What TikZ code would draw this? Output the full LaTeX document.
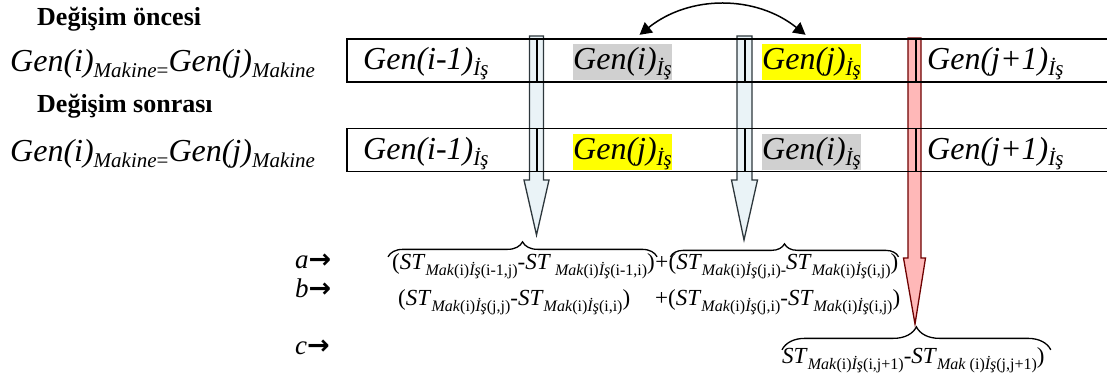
\documentclass[tikz,border=0pt]{standalone}
\usepackage{fontspec}
\setmainfont{Liberation Serif}
\newfontfamily\arrfont{DejaVu Sans}
\usetikzlibrary{
  arrows.meta,
  positioning,
  chains,
  calc,
  decorations.pathreplacing
}
\definecolor{shaftBlue}{RGB}{234,243,247}
\definecolor{edgeBlue}{RGB}{45,55,60}
\definecolor{shaftRed}{RGB}{255,184,184}
\definecolor{edgeRed}{RGB}{110,0,0}
\definecolor{markGray}{RGB}{208,208,208}
\definecolor{markYellow}{RGB}{255,255,0}

\newcommand\genfont{\fontsize{32}{36}\selectfont\itshape}
\newcommand\lowsub[1]{\raisebox{-6pt}{\fontsize{21}{24}\selectfont #1}}
\newcommand\stsub[1]{\raisebox{-6pt}{\fontsize{16}{18}\selectfont #1}}
\newcommand\stx{\textit{ST}}
\newcommand\mak[2][]{\textit{Mak}#1(i)\textit{İş}(#2)}

% block arrow: style, top, tip, head length, half shaft, half head
\newcommand\blockarrow[6]{%
  \path[#1] let \p1=(#2), \p2=(#3) in
    (\x1-#5pt,\y1) -- (\x1+#5pt,\y1) -- (\x1+#5pt,\y2+#4pt)
    -- (\x1+#6pt,\y2+#4pt) -- (\x2,\y2) -- (\x1-#6pt,\y2+#4pt)
    -- (\x1-#5pt,\y2+#4pt) -- cycle;}

\tikzset{
  cell/.style={draw, line width=1.6pt, minimum height=43pt,
    inner sep=0pt, outer sep=0pt, anchor=west},
  head/.style={font=\fontsize{26}{30}\selectfont\bfseries, anchor=base west},
  gen/.style={font=\genfont, anchor=base west},
  hilite/.style={text height=25pt, text depth=11pt},
  expr/.style={font=\fontsize{23}{26}\selectfont, anchor=base west},
  lab/.style={font=\fontsize{27}{30}\selectfont, anchor=base west},
  blueshaft/.style={fill=shaftBlue, draw=edgeBlue, line width=1.3pt},
  redshaft/.style={fill=shaftRed, draw=edgeRed, line width=1.3pt},
  curly/.style={decorate, decoration={brace, amplitude=#1}, line width=1.3pt}
}

\begin{document}
\begin{tikzpicture}[
    x=1pt, y=-1pt,
    >={Triangle[length=12pt,width=13pt]},
    every node/.style={inner sep=0pt},
    node distance=0pt
  ]
  \useasboundingbox (0,0) rectangle (1107,376);

  \node[head] (pre) at (37,25) {Değişim öncesi};
  \node[gen] (eq1) at (10,71) {Gen(i)\lowsub{Makine\textup{=}}Gen(j)\lowsub{Makine}};
  \node[head] (post) at (37,112) {Değişim sonrası};
  \node[gen] (eq2) at (10,161) {Gen(i)\lowsub{Makine\textup{=}}Gen(j)\lowsub{Makine}};

  % block arrows first, the table goes on top
  \coordinate (top1) at (536.5,36);
  \coordinate (tip1) at (536.5,235);
  \coordinate (top2) at (744.5,36);
  \coordinate (tip2) at (744,240);
  \coordinate (top3) at (914.5,38);
  \coordinate (tip3) at (915,324);
  \blockarrow{blueshaft}{top1}{tip1}{55}{7}{12.5}
  \blockarrow{blueshaft}{top2}{tip2}{60}{7.5}{13}
  \blockarrow{redshaft}{top3}{tip3}{66}{6.5}{11}

  \begin{scope}[shift={(347,60.5)}, start chain=going right]
    \foreach \w [count=\k] in {190,208,171,200}{
      \node[cell, on chain, minimum width=\w pt] (r1c\k) {};
    }
  \end{scope}
  \begin{scope}[shift={(347,150)}, start chain=going right]
    \foreach \w [count=\k] in {190,208,171,200}{
      \node[cell, on chain, minimum width=\w pt] (r2c\k) {};
    }
  \end{scope}

  \node[gen] (g11) at (363,69) {Gen(i-1)\lowsub{İş}};
  \node[gen, hilite, fill=markGray] (g12) at (573,69) {Gen(i)\lowsub{İş}};
  \node[gen, hilite, fill=markYellow] (g13) at (762,69) {Gen(j)\lowsub{İş}};
  \node[gen] (g14) at (927,69) {Gen(j+1)\lowsub{İş}};

  \node[gen] (g21) at (363,159) {Gen(i-1)\lowsub{İş}};
  \node[gen, hilite, fill=markYellow] (g22) at (573,159) {Gen(j)\lowsub{İş}};
  \node[gen, hilite, fill=markGray] (g23) at (762,159) {Gen(i)\lowsub{İş}};
  \node[gen] (g24) at (927,159) {Gen(j+1)\lowsub{İş}};

  \draw[<->, line width=1.5pt]
    ([shift={(17pt,9pt)}]g12.north) .. controls +(50,-40) and +(-50,-40) ..
    ([shift={(-6pt,9pt)}]g13.north);

  % setup time terms
  \node[lab] (la) at (295,268) {\textit{a}{\arrfont\bfseries →}};
  \node[lab] (lb) at (295,297) {\textit{b}{\arrfont\bfseries →}};
  \node[lab] (lc) at (295,354) {\textit{c}{\arrfont\bfseries →}};

  \node[expr] (a1) at (392,269) {(\stx\stsub{\mak{i-1,j}}-\stx\stsub{\ \mak{i-1,i}})};
  \node[expr, base right=of a1] (aplus) {+};
  \node[expr, base right=of aplus] (a2) {(\stx\stsub{\mak{j,i}-}\stx\stsub{\mak{i,j}})};
  \node[expr] (b1) at (398,305) {(\stx\stsub{\mak{j,j}}-\stx\stsub{\mak{i,i}})};
  \node[expr] (b2) at (655,305) {+(\stx\stsub{\mak{j,i}}-\stx\stsub{\mak{i,j}})};
  \node[expr] (c1) at (782,363) {\stx\stsub{\mak{i,j+1}}-\stx\stsub{\mak[\ ]{j,j+1}})};

  \draw[curly=15pt] ([xshift=-4pt,yshift=-4pt]a1.north west)
    -- ([xshift=2pt,yshift=-4pt]a1.north east);
  \draw[curly=13pt] ([xshift=2pt,yshift=-4pt]a2.north west)
    -- ([yshift=-4pt]a2.north east);
  \draw[curly=23pt] ([yshift=-3pt]c1.north west)
    -- ([xshift=6pt,yshift=-3pt]c1.north east);
\end{tikzpicture}
\end{document}
